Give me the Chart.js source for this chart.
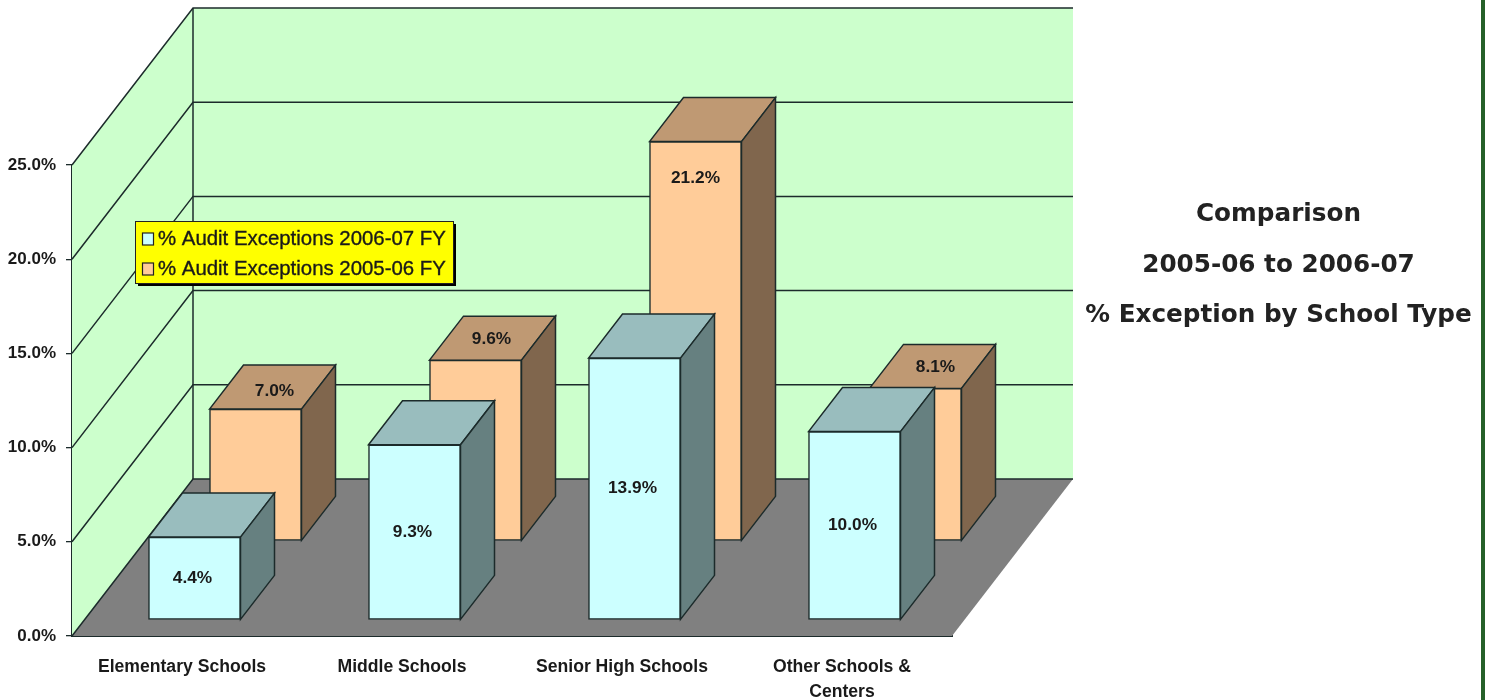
<!DOCTYPE html>
<html><head><meta charset="utf-8">
<script src="https://cdn.jsdelivr.net/npm/chart.js@4"></script>
<style>
html,body{margin:0;padding:0;background:#fff;}
#wrap{position:relative;width:1489px;height:700px;overflow:hidden;}
#edge{position:absolute;left:1481px;top:0;width:4px;height:700px;background:#256029;}
</style></head>
<body><div id="wrap"><canvas id="c" width="1489" height="700"></canvas><div id="edge"></div></div>
<script>
const categories = ['Elementary Schools','Middle Schools','Senior High Schools',['Other Schools &','Centers']];
const seriesNames = ['% Audit Exceptions 2006-07 FY','% Audit Exceptions 2005-06 FY'];
const exceptions0607 = [4.4, 9.3, 13.9, 10.0];
const exceptions0506 = [7.0, 9.6, 21.2, 8.1];
const titleLines = ['Comparison','2005-06 to 2006-07','% Exception by School Type'];

const LINE = '#1c2b2b';
const DEPTH = {x:121, y:-157};            // full floor depth
const BAR = {x:34, y:-44};                // depth of a bar
const SHIFT = [{x:12.5,y:-16},{x:73.5,y:-95}]; // where each row sits on the floor
const FACES = [{top:'#99BDBE',side:'#668080'},{top:'#BF9973',side:'#80664D'}];
// label offsets from the bar's top centre for the rear row (labels sit on the visible part)
const REAR_NUDGE = [[19,-18],[16,-21],[0,37],[20,-21]];
const FRONT_NUDGE = -2;

function poly(ctx, pts, fill, stroke, lw){
  ctx.beginPath();
  pts.forEach((p,i)=> i?ctx.lineTo(p[0],p[1]):ctx.moveTo(p[0],p[1]));
  ctx.closePath();
  if(fill){ctx.fillStyle=fill;ctx.fill();}
  if(stroke){ctx.strokeStyle=stroke;ctx.lineWidth=lw||1.5;ctx.stroke();}
}
const scene = {
  id:'scene',
  beforeDatasetsDraw(chart){
    const {ctx, chartArea:a, scales:{y}} = chart;
    const L=a.left,R=a.right,B=y.getPixelForValue(0),T=y.getPixelForValue(25);
    const dx=DEPTH.x,dy=DEPTH.y;
    ctx.save();
    poly(ctx,[[L,B],[L,T],[L+dx,T+dy],[L+dx,B+dy]],'#CCFFCC');
    poly(ctx,[[L+dx,T+dy],[R+dx,T+dy],[R+dx,B+dy],[L+dx,B+dy]],'#CCFFCC');
    poly(ctx,[[L,B],[L+dx,B+dy],[R+dx,B+dy],[R,B]],'#808080');
    ctx.strokeStyle=LINE;ctx.lineWidth=1.5;
    y.ticks.forEach(t=>{
      const p=y.getPixelForValue(t.value);
      ctx.beginPath();ctx.moveTo(L,p);ctx.lineTo(L+dx,p+dy);ctx.lineTo(R+dx,p+dy);ctx.stroke();
    });
    ctx.beginPath();ctx.moveTo(L+dx,T+dy);ctx.lineTo(L+dx,B+dy);ctx.stroke();
    ctx.restore();
  },
  beforeDatasetDraw(chart,{index,meta}){
    const ctx=chart.ctx,s=SHIFT[index],f=FACES[index];
    ctx.save();
    ctx.translate(s.x,s.y);
    meta.data.forEach(b=>{
      const {x,y,base,width}=b.getProps(['x','y','base','width'],true);
      const l=x-width/2,r=x+width/2;
      poly(ctx,[[l,y],[l+BAR.x,y+BAR.y],[r+BAR.x,y+BAR.y],[r,y]],f.top,LINE,1.5);
      poly(ctx,[[r,y],[r+BAR.x,y+BAR.y],[r+BAR.x,base+BAR.y],[r,base]],f.side,LINE,1.5);
    });
  },
  afterDatasetDraw(chart){ chart.ctx.restore(); },
  afterDatasetsDraw(chart){
    const ctx=chart.ctx;
    ctx.save();
    ctx.font='bold 17.3px "Liberation Sans"';
    ctx.fillStyle='#1a1a1a';ctx.textAlign='center';ctx.textBaseline='middle';
    chart.data.datasets.forEach((ds,i)=>{
      chart.getDatasetMeta(i).data.forEach((b,j)=>{
        const {x,y,base}=b.getProps(['x','y','base'],true);
        const txt=ds.data[j].toFixed(1)+'%';
        if(i===0) ctx.fillText(txt,x+SHIFT[0].x+FRONT_NUDGE,(y+base)/2+SHIFT[0].y);
        else ctx.fillText(txt,x+SHIFT[1].x+REAR_NUDGE[j][0],y+SHIFT[1].y+REAR_NUDGE[j][1]);
      });
    });
    // legend
    const bx=135,by=221,bw=318,bh=62;
    ctx.fillStyle='#000';ctx.fillRect(bx+3,by+3,bw,bh);
    ctx.fillStyle='#FFFF00';ctx.fillRect(bx,by,bw,bh);
    ctx.strokeStyle='#222';ctx.lineWidth=1;ctx.strokeRect(bx+.5,by+.5,bw,bh);
    ctx.textAlign='left';ctx.font='20.4px "Liberation Sans"';
    chart.data.datasets.forEach((ds,i)=>{
      const yy=by+18+i*30;
      ctx.fillStyle=ds.backgroundColor;ctx.fillRect(bx+7.5,yy-6,11,12);
      ctx.strokeStyle='#222';ctx.lineWidth=1.2;ctx.strokeRect(bx+7.5,yy-6,11,12);
      ctx.fillStyle='#1a1a1a';ctx.fillText(ds.label,bx+23,yy);
      ctx.strokeStyle='#1a1a1a';ctx.lineWidth=0.35;ctx.strokeText(ds.label,bx+23,yy);
    });
    // side title
    ctx.textAlign='center';ctx.font='bold 24.7px "DejaVu Sans"';ctx.fillStyle='#222';
    titleLines.forEach((t,i)=>ctx.fillText(t,1278.5,215+i*50.5));
    ctx.restore();
  }
};
new Chart(document.getElementById('c'),{
  type:'bar',
  data:{labels:categories,datasets:[
    {label:seriesNames[0],data:exceptions0607,backgroundColor:'#CCFFFF',borderColor:LINE,borderWidth:1.5,borderSkipped:false,clip:false},
    {label:seriesNames[1],data:exceptions0506,backgroundColor:'#FFCC99',borderColor:LINE,borderWidth:1.5,borderSkipped:false,clip:false}
  ]},
  options:{
    responsive:false,animation:false,
    layout:{padding:{top:165,right:537,bottom:0,left:0}},
    datasets:{bar:{grouped:false,barThickness:92}},
    plugins:{legend:{display:false},tooltip:{enabled:false}},
    scales:{
      x:{grid:{display:false},border:{display:true,color:LINE,width:2},
         ticks:{color:'#1a1a1a',padding:11,maxRotation:0,autoSkip:false,font:{family:'"Liberation Sans"',size:17.6,weight:'bold',lineHeight:1.42}},
         afterFit(s){s.height=64;}},
      y:{min:0,max:25,afterFit(s){s.width=72;},
         grid:{drawOnChartArea:false,drawTicks:true,tickLength:6,color:LINE,lineWidth:1.3},
         border:{display:true,color:LINE,width:1.5},
         ticks:{stepSize:5,color:'#1a1a1a',padding:10,callback:v=>v.toFixed(1)+'%',font:{family:'"Liberation Sans"',size:17,weight:'bold'}}}
    }
  },
  plugins:[scene]
});
</script></body></html>
